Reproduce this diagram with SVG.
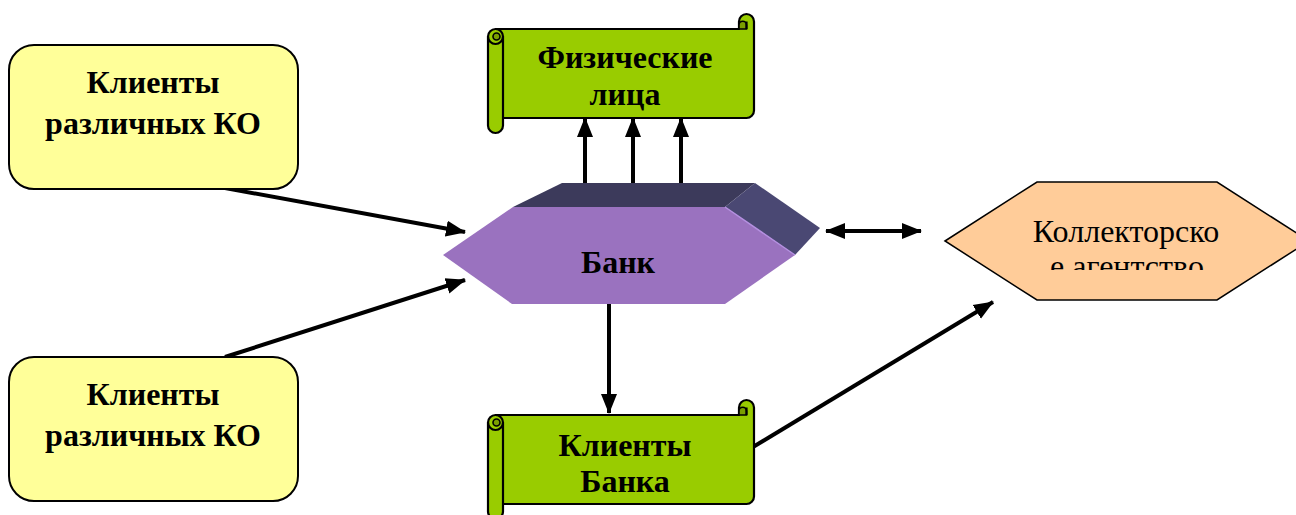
<svg xmlns="http://www.w3.org/2000/svg" width="1296" height="515" viewBox="0 0 1296 515">
  <style>
    .box { fill: #FFFF99; stroke: #000; stroke-width: 2; }
    .scroll { fill: #99CC00; stroke: #000; stroke-width: 2.2; stroke-linejoin: round; }
    .curl { fill: #7A9F00; stroke: #000; stroke-width: 1.6; }
    .edge { fill: none; stroke: #000; stroke-width: 2.2; }
    .lbl { font-family: "Liberation Serif", "Times New Roman", serif; font-size: 32px; font-weight: bold; fill: #000; text-anchor: middle; }
    .plain { font-family: "Liberation Serif", "Times New Roman", serif; font-size: 32px; fill: #000; text-anchor: middle; }
    .wire { fill: none; stroke: #000; stroke-width: 4; }
  </style>
  <defs>
    <marker id="head" markerUnits="userSpaceOnUse" markerWidth="22" markerHeight="18" refX="19" refY="9" orient="auto-start-reverse">
      <path d="M0,1 L20,9 L0,17 Z" fill="#000"/>
    </marker>
    <!-- horizontal scroll banner, 266 x 119 -->
    <g id="scroll-shape">
      <path class="scroll" d="M0,22.5 A7.5,7.5 0 0 1 7.5,15 L251,15 L251,7.5 A7.5,7.5 0 0 1 266,7.5 L266,96.5 A7.5,7.5 0 0 1 258.5,104 L15,104 L15,111.5 A7.5,7.5 0 0 1 0,111.5 Z"/>
      <path class="edge" d="M7.5,15 A7.5,7.5 0 0 1 15,22.5 L15,104"/>
      <path class="edge" d="M0,22.5 A7.5,7.5 0 0 0 15,22.5"/>
      <path class="curl" d="M8.5,26 A3.5,3.5 0 1 1 8.5,19 A3.5,3.5 0 0 1 8.5,26 Z"/>
      <path class="curl" d="M258.5,15 L251,15 L251,11 A3.75,3.75 0 0 1 258.5,11 Z"/>
      <path class="edge" d="M258.5,15 L258.5,7.5"/>
    </g>
    <clipPath id="agency-clip">
      <rect x="940" y="180" width="356" height="90"/>
    </clipPath>
  </defs>

  <rect width="1296" height="515" fill="#fff"/>

  <g id="connectors">
    <line class="wire" x1="225" y1="188" x2="465" y2="232" marker-end="url(#head)"/>
    <line class="wire" x1="225" y1="357" x2="465" y2="280" marker-end="url(#head)"/>
    <line class="wire" x1="585" y1="183" x2="585" y2="118" marker-end="url(#head)"/>
    <line class="wire" x1="633" y1="183" x2="633" y2="118" marker-end="url(#head)"/>
    <line class="wire" x1="681" y1="183" x2="681" y2="118" marker-end="url(#head)"/>
    <line class="wire" x1="609" y1="304" x2="609" y2="413" marker-end="url(#head)"/>
    <line class="wire" x1="826" y1="231" x2="921" y2="231" marker-start="url(#head)" marker-end="url(#head)"/>
    <line class="wire" x1="753" y1="447" x2="993" y2="302" marker-end="url(#head)"/>
  </g>

  <g id="clients-ko-top">
    <rect class="box" x="9" y="45" width="289" height="144" rx="25" ry="25"/>
    <text class="lbl" x="153" y="93">Клиенты</text>
    <text class="lbl" x="153" y="134">различных КО</text>
  </g>

  <g id="clients-ko-bottom">
    <rect class="box" x="9" y="357" width="289" height="144" rx="25" ry="25"/>
    <text class="lbl" x="153" y="405">Клиенты</text>
    <text class="lbl" x="153" y="446">различных КО</text>
  </g>

  <g id="individuals">
    <use href="#scroll-shape" transform="translate(488,14)"/>
    <text class="lbl" x="625" y="68">Физические</text>
    <text class="lbl" x="625" y="105">лица</text>
  </g>

  <g id="bank">
    <polygon points="513,207 562,183 755,183 725,207" fill="#3C3A5B"/>
    <polygon points="725,207 755,183 820,228 795,255" fill="#4A4873"/>
    <polygon points="443,255 513,207 725,207 795,255 725,304 512,304" fill="#9A72BF"/>
    <line x1="725" y1="207" x2="795" y2="255" stroke="#B48FE0" stroke-width="1.5"/>
    <text class="lbl" x="618" y="273">Банк</text>
  </g>

  <g id="bank-clients">
    <use href="#scroll-shape" transform="translate(488,400)"/>
    <text class="lbl" x="625" y="456">Клиенты</text>
    <text class="lbl" x="625" y="492">Банка</text>
  </g>

  <g id="collection-agency">
    <polygon points="945,241 1037,182 1217,182 1309,241 1217,300 1037,300" fill="#FFCC99" stroke="#000" stroke-width="1.5"/>
    <g clip-path="url(#agency-clip)">
      <text class="plain" x="1126" y="242">Коллекторско</text>
      <text class="plain" x="1127" y="277">е агентство</text>
    </g>
  </g>
</svg>
